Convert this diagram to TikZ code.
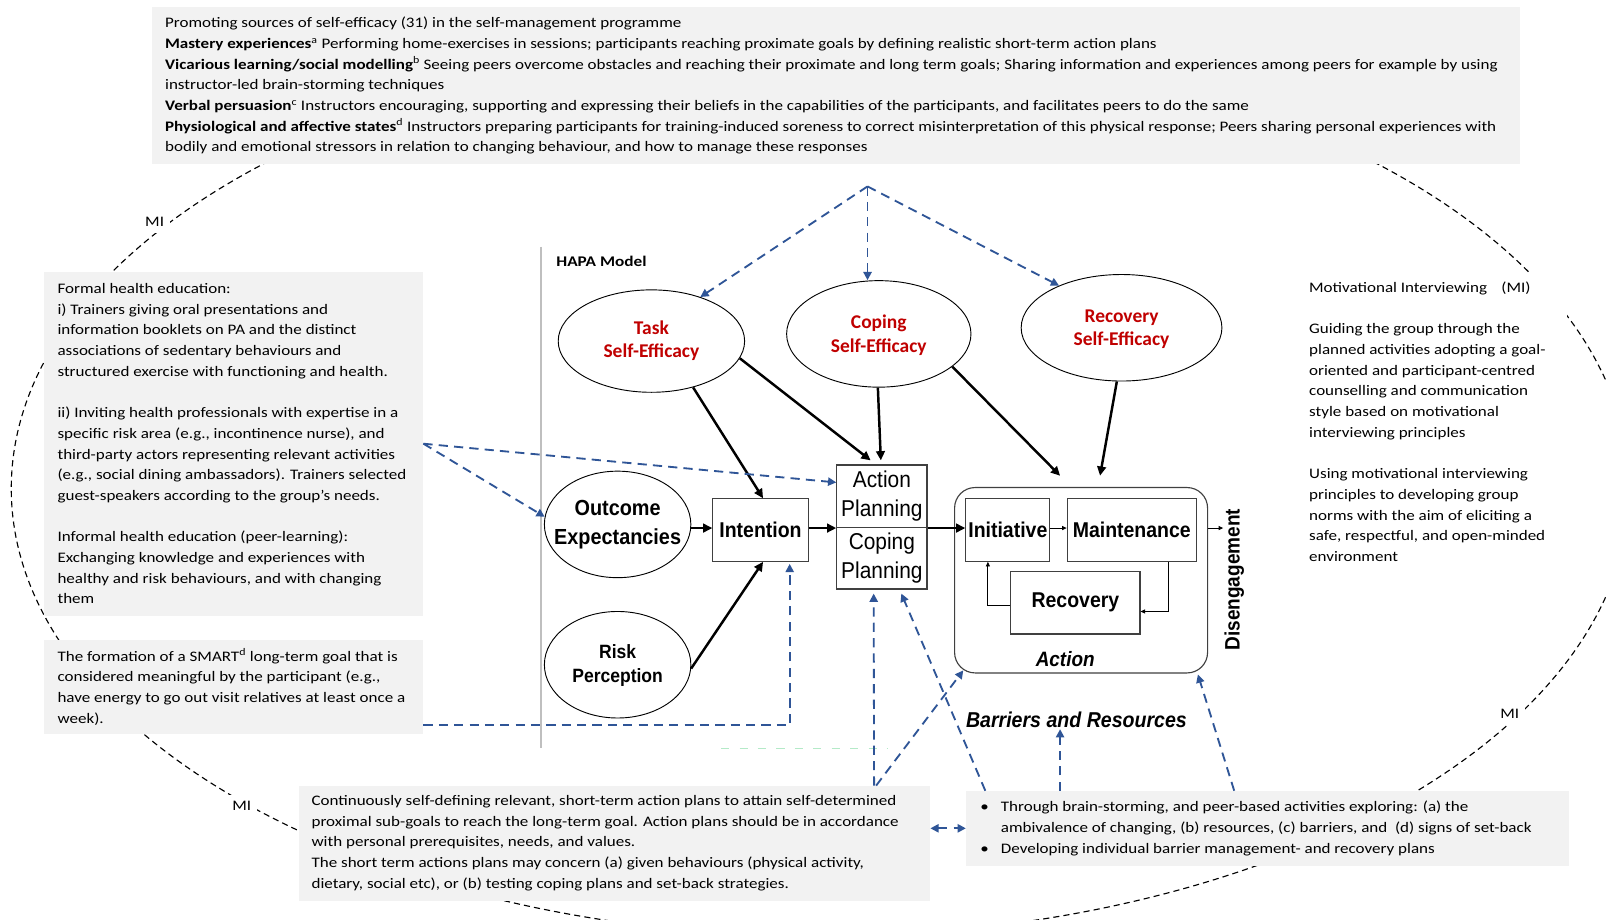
\documentclass[tikz,border=0pt]{standalone}
\usepackage{fontspec}
\setmainfont{Carlito}[FakeStretch=1.17]
\newfontfamily\sefont{Carlito}
\newfontfamily\hapafont{Liberation Sans}[FakeStretch=0.91]
\usetikzlibrary{arrows.meta,shapes.geometric}
\definecolor{boxgray}{HTML}{F2F2F2}
\definecolor{dblue}{HTML}{2F5597}
\definecolor{sered}{HTML}{C00000}
\definecolor{boxline}{HTML}{404040}
\definecolor{faintgreen}{HTML}{B4EAC8}
\begin{document}
\begin{tikzpicture}[x=1pt,y=-1pt,
  graybox/.style={fill=boxgray, draw=none, inner sep=0pt, anchor=north west},
  btext/.style={align=left, anchor=west, inner sep=0pt, font=\fontsize{14.2}{20.2}\selectfont},
  mil/.style={fill=white, inner sep=6pt, font=\fontsize{14.2}{17}\selectfont},
  midash/.style={black, line width=1.1pt, dash pattern=on 6pt off 4pt},
  ell/.style={ellipse, draw=black, line width=0.9pt, inner sep=0pt},
  setext/.style={align=center, text=sered, font=\sefont\bfseries\fontsize{19}{23}\selectfont},
  hbox/.style={rectangle, draw=boxline, line width=1.1pt, inner sep=2pt},
  hbold/.style={font=\hapafont\bfseries\fontsize{20.9}{28}\selectfont},
  hreg/.style={align=center, font=\hapafont\fontsize{22.4}{28}\selectfont},
  blk/.style={line width=2.4pt, -{Triangle[length=9pt,width=8.5pt]}},
  thinarr/.style={line width=0.8pt, -{Triangle[length=4.5pt,width=4pt]}},
  bdash/.style={dblue, line width=1.8pt, dash pattern=on 9pt off 6pt, -{Triangle[length=8pt,width=8pt]}},
  bdash2/.style={dblue, line width=1.8pt, dash pattern=on 9pt off 6pt, {Triangle[length=8pt,width=8pt]}-{Triangle[length=8pt,width=8pt]}}
]
\useasboundingbox (0,0) rectangle (1568,898);
\fill[white] (0,0) rectangle (1568,898);

% big MI dashed ellipse (behind)
\draw[midash] (801,477) ellipse [x radius=790pt, y radius=437pt];

% gray boxes
\node[graybox, minimum width=1336pt, minimum height=153pt] (topbox) at (148,7) {};
\node[btext] (toptext) at ([xshift=13pt]topbox.west) {Promoting sources of self-efficacy (31) in the self-management programme\\
\textbf{Mastery experiences}\textsuperscript{a} Performing home-exercises in sessions; participants reaching proximate goals by defining realistic short-term action plans\\
\textbf{Vicarious learning/social modelling}\textsuperscript{b} Seeing peers overcome obstacles and reaching their proximate and long term goals; Sharing information and experiences among peers for example by using\\
instructor-led brain-storming techniques\\
\textbf{Verbal persuasion}\textsuperscript{c} Instructors encouraging, supporting and expressing their beliefs in the capabilities of the participants, and facilitates peers to do the same\\
\textbf{Physiological and affective states}\textsuperscript{d} Instructors preparing participants for training-induced soreness to correct misinterpretation of this physical response; Peers sharing personal experiences with\\
bodily and emotional stressors in relation to changing behaviour, and how to manage these responses};

\node[graybox, minimum width=370pt, minimum height=336pt] (lb1) at (43,265) {};
\node[btext] (lb1text) at ([xshift=13pt]lb1.west) {Formal health education:\\
i) Trainers giving oral presentations and\\
information booklets on PA and the distinct\\
associations of sedentary behaviours and\\
structured exercise with functioning and health.\\[20.2pt]
ii) Inviting health professionals with expertise in a\\
specific risk area (e.g., incontinence nurse), and\\
third-party actors representing relevant activities\\
(e.g., social dining ambassadors). Trainers selected\\
guest-speakers according to the group’s needs.\\[20.2pt]
Informal health education (peer-learning):\\
Exchanging knowledge and experiences with\\
healthy and risk behaviours, and with changing\\
them};

\node[graybox, minimum width=370pt, minimum height=91pt] (lb2) at (43,625) {};
\node[btext] (lb2text) at ([xshift=13pt]lb2.west) {The formation of a SMART\textsuperscript{d} long-term goal that is\\
considered meaningful by the participant (e.g.,\\
have energy to go out visit relatives at least once a\\
week).};

\node[graybox, minimum width=616pt, minimum height=112pt] (bb1) at (292,767) {};
\node[btext] (bb1text) at ([xshift=12pt]bb1.west) {Continuously self-defining relevant, short-term action plans to attain self-determined\\
proximal sub-goals to reach the long-term goal. Action plans should be in accordance\\
with personal prerequisites, needs, and values.\\
The short term actions plans may concern (a) given behaviours (physical activity,\\
dietary, social etc), or (b) testing coping plans and set-back strategies.};

\node[graybox, minimum width=589pt, minimum height=73pt] (bb2) at (943,772) {};
\node[btext] (bb2text) at ([xshift=14pt]bb2.west) {\makebox[20pt][l]{•}Through brain-storming, and peer-based activities exploring: (a) the\\
\hspace*{20pt}ambivalence of changing, (b) resources, (c) barriers, and\ \ (d) signs of set-back\\
\makebox[20pt][l]{•}Developing individual barrier management- and recovery plans};

% MI text (white background)
\node[fill=white, inner sep=0pt, anchor=north west, minimum width=262pt, minimum height=290pt] (mibox) at (1268,266) {};
\node[btext, anchor=north west] (mitext) at ([xshift=10pt,yshift=-9pt]mibox.north west) {Motivational Interviewing\hspace*{14pt}(MI)\\[20.2pt]
Guiding the group through the\\
planned activities adopting a goal-\\
oriented and participant-centred\\
counselling and communication\\
style based on motivational\\
interviewing principles\\[20.2pt]
Using motivational interviewing\\
principles to developing group\\
norms with the aim of eliciting a\\
safe, respectful, and open-minded\\
environment};

% MI labels
\node[mil] (mi1) at (151,217) {MI};
\node[mil] (mi2) at (236,787) {MI};
\node[mil] (mi3) at (1474,697) {MI};

% HAPA frame
\draw[color=black!25, line width=1.5pt] (528,241) -- (528,730);
\draw[faintgreen, line width=1pt, dash pattern=on 8pt off 10pt] (704,731) -- (867,731);
\node[anchor=west, inner sep=0pt, font=\bfseries\fontsize{14.4}{17}\selectfont] (hapa) at (543,255) {HAPA Model};

% ellipses
\node[ell, minimum width=182pt, minimum height=100pt] (tse) at (636,333) {};
\node[setext] (tset) at (636,332.5) {Task\\Self-Efficacy};
\node[ell, minimum width=180pt, minimum height=104pt] (cse) at (858,326) {};
\node[setext] (cset) at (858,327.5) {Coping\\Self-Efficacy};
\node[ell, minimum width=196pt, minimum height=104pt] (rse) at (1095,320) {};
\node[setext] (rset) at (1095,321.5) {Recovery\\Self-Efficacy};
\node[ell, minimum width=143pt, minimum height=104pt] (oe) at (603,512) {};
\node[align=center, font=\hapafont\bfseries\fontsize{21.3}{28}\selectfont] (oet) at (603,512) {Outcome\\Expectancies};
\node[ell, minimum width=143pt, minimum height=104pt] (rp) at (603,649) {};
\node[align=center, font=\hapafont\bfseries\fontsize{18.8}{23}\selectfont] (rpt) at (603,649.5) {Risk\\Perception};

% boxes
\node[hbox, hbold, minimum width=93pt, minimum height=61pt] (int) at (742.5,517.5) {Intention};
\node[hbox, hreg, minimum width=88pt, minimum height=61pt] (ap) at (861,484.5) {Action\\Planning};
\node[hbox, hreg, minimum width=88pt, minimum height=60pt] (cp) at (861,545) {Coping\\Planning};
\node[hbox, rounded corners=20pt, minimum width=247pt, minimum height=181pt] (act) at (1055.5,566.5) {};
\node[hbox, hbold, minimum width=82pt, minimum height=61pt] (ini) at (984,517.5) {Initiative};
\node[hbox, hbold, minimum width=126pt, minimum height=61pt] (mnt) at (1105,517.5) {Maintenance};
\node[hbox, hbold, minimum width=126pt, minimum height=61pt] (rec) at (1050,588.5) {Recovery};
\node[font=\hapafont\bfseries\itshape\fontsize{20.3}{22}\selectfont, inner sep=1pt] (actlbl) at (1040,643) {Action};
\node[font=\hapafont\bfseries\fontsize{20.4}{22}\selectfont, rotate=90, inner sep=1pt] (dis) at (1205,566) {Disengagement};
\node[font=\hapafont\bfseries\itshape\fontsize{21}{22}\selectfont, inner sep=1pt] (bar) at (1051,703) {Barriers and Resources};

% black arrows
\draw[blk] (tse.-48) -- ([xshift=2.5pt]int.north);
\draw[blk] (tse.-11) -- ([xshift=-11pt,yshift=4pt]ap.north);
\draw[blk] (cse.-91) -- ([xshift=-1pt,yshift=4pt]ap.north);
\draw[blk] (cse.-24) -- ([xshift=-20.5pt,yshift=11pt]act.north);
\draw[blk] (rse.-95) -- ([xshift=18.5pt,yshift=11pt]act.north);
\draw[blk] (oe.east |- ap.south) -- (int.west |- ap.south);
\draw[blk] (rp.-3) -- ([xshift=2.5pt]int.south);
\draw[blk] (int.east |- ap.south) -- (ap.south west);
\draw[blk] (ap.south east) -- (ini.west |- ap.south);

% thin arrows
\draw[thinarr] (ini.east |- ap.south) -- (mnt.west |- ap.south);
\draw[thinarr] (act.east |- ap.south) -- (dis.north |- ap.south);
\draw[thinarr] ([xshift=-28pt]mnt.south east) |- ([yshift=-8.5pt]rec.east);
\draw[thinarr] ([yshift=-3pt]rec.west) -| ([xshift=-19.5pt]ini.south);

% blue dashed arrows
\coordinate (apex) at (847,182);
\draw[bdash] (apex) -- (tse.42);
\draw[bdash] (apex) -- (apex |- cse.north);
\draw[bdash] (apex) -- (rse.146);
\draw[bdash] (lb1.east) -- ([yshift=13.5pt]ap.west);
\draw[bdash] (lb1.east) -- (oe.174);
\draw[bdash] ([yshift=-37.5pt]lb2.east) -| ([xshift=28.5pt,yshift=-2pt]int.south);
\draw[bdash] ([xshift=-55pt]bb1.north east) -- ([xshift=-8pt,yshift=-4pt]cp.south);
\draw[bdash] ([xshift=-53pt]bb1.north east) -- ([xshift=9pt,yshift=3pt]act.south west);
\draw[bdash] ([xshift=19pt]bb2.north west) -- ([xshift=19pt,yshift=-4pt]cp.south);
\coordinate (b7) at ([xshift=92pt]bb2.north west);
\draw[bdash] (b7) -- (b7 |- bar.south);
\draw[bdash] ([xshift=262pt]bb2.north west) -- ([xshift=-10pt,yshift=-1pt]act.south east);
\draw[bdash2] (bb1.east |- bb2.west) -- (bb2.west);
\end{tikzpicture}
\end{document}
